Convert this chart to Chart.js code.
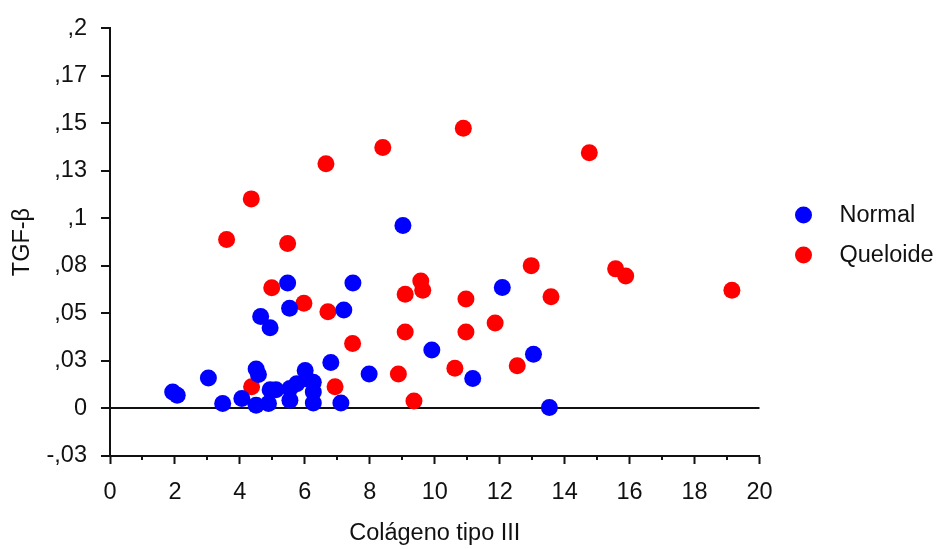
<!DOCTYPE html>
<html>
<head>
<meta charset="utf-8">
<title>TGF-β vs Colágeno tipo III</title>
<script src="https://cdn.jsdelivr.net/npm/chart.js@4/dist/chart.umd.min.js"></script>
<style>
  html, body { margin: 0; padding: 0; background: #ffffff; }
  #wrap { width: 936px; height: 549px; }
</style>
</head>
<body>
<div id="wrap"><canvas id="chart" width="936" height="549"></canvas></div>
<script>
// Series: Normal tissue
const normalX = [1.93, 2.07, 3.03, 3.47, 4.06, 4.50, 4.57, 4.50, 4.88, 4.93, 5.11, 5.54, 5.54, 5.75, 6.01, 6.06, 6.26, 6.26, 6.26, 6.80, 7.11,
                 4.64, 4.93, 5.47, 5.53, 7.20, 7.48, 7.98, 9.02, 9.91, 11.17, 12.08, 13.04, 13.53];
const normalY = [0.0086, 0.0069, 0.0160, 0.0026, 0.0052, 0.0207, 0.0178, 0.0017, 0.0026, 0.0098, 0.0098, 0.0043, 0.0105, 0.0130, 0.0199, 0.0155, 0.0138, 0.0086, 0.0029, 0.0242, 0.0029,
                 0.0483, 0.0424, 0.0660, 0.0527, 0.0518, 0.0660, 0.0181, 0.0962, 0.0307, 0.0158, 0.0636, 0.0285, 0.0005];

// Series: keloid tissue
const queloideX = [3.59, 4.35, 4.36, 4.98, 5.47, 5.97, 6.65, 6.71, 6.93, 7.47, 8.40, 8.88, 9.09, 9.09, 9.36, 9.57, 9.63, 10.62, 10.88, 10.96,
                   10.96, 11.86, 12.54, 12.97, 13.58, 14.76, 15.57, 15.88, 19.15];
const queloideY = [0.0889, 0.1102, 0.0114, 0.0635, 0.0867, 0.0553, 0.1287, 0.0509, 0.0114, 0.0342, 0.1372, 0.0181, 0.0601, 0.0402, 0.0039, 0.0670, 0.0622, 0.0212, 0.1473, 0.0575,
                   0.0402, 0.0449, 0.0224, 0.0751, 0.0587, 0.1345, 0.0734, 0.0696, 0.0622];

const seriesNames = ['Normal', 'Queloide'];
const seriesColors = ['#0000ff', '#ff0000'];

// Axes
const xTitle = 'Colágeno tipo III';
const yTitle = 'TGF-β';
const xTickValues = [0, 2, 4, 6, 8, 10, 12, 14, 16, 18, 20];
const xMinorValues = [1, 3, 5, 7, 9, 11, 13, 15, 17, 19];
const yTickValues = [-0.025, 0, 0.025, 0.05, 0.075, 0.1, 0.125, 0.15, 0.175, 0.2];
const yTickLabels = ['-,03', '0', ',03', ',05', ',08', ',1', ',13', ',15', ',17', ',2'];

const FONT = '"Liberation Sans", Arial, sans-serif';
const FONT_SIZE = 23.5;
const INK = '#111111';

function toPoints(xs, ys) {
  return xs.map((x, i) => ({ x: x, y: ys[i] }));
}

// Short unlabelled ticks at the odd x values
const minorTicks = {
  id: 'minorTicks',
  afterDraw(chart) {
    const sx = chart.scales.x;
    const ctx = chart.ctx;
    ctx.save();
    ctx.strokeStyle = INK;
    ctx.lineWidth = 2;
    ctx.beginPath();
    xMinorValues.forEach(v => {
      const px = Math.round(sx.getPixelForValue(v));
      ctx.moveTo(px, sx.top);
      ctx.lineTo(px, sx.top + 4);
    });
    ctx.stroke();
    ctx.restore();
  }
};

// Legend to the right of the plot
const sideLegend = {
  id: 'sideLegend',
  afterDraw(chart) {
    const ctx = chart.ctx;
    const area = chart.chartArea;
    const x0 = area.right + 44;
    const yStart = 215;
    const gap = 40;
    ctx.save();
    ctx.font = FONT_SIZE + 'px ' + FONT;
    ctx.textBaseline = 'middle';
    ctx.textAlign = 'left';
    chart.data.datasets.forEach((ds, i) => {
      const y = yStart + i * gap;
      ctx.fillStyle = ds.backgroundColor;
      ctx.beginPath();
      ctx.arc(x0, y, 8.5, 0, Math.PI * 2);
      ctx.fill();
      ctx.fillStyle = INK;
      ctx.fillText(ds.label, x0 + 36, y + 1);
    });
    ctx.restore();
  }
};

new Chart(document.getElementById('chart'), {
  type: 'scatter',
  data: {
    datasets: [
      {
        label: seriesNames[0],
        data: toPoints(normalX, normalY),
        backgroundColor: seriesColors[0],
        borderWidth: 0,
        pointRadius: 8.5,
        pointHoverRadius: 8.5
      },
      {
        label: seriesNames[1],
        data: toPoints(queloideX, queloideY),
        backgroundColor: seriesColors[1],
        borderWidth: 0,
        pointRadius: 8.5,
        pointHoverRadius: 8.5
      }
    ]
  },
  options: {
    responsive: false,
    animation: false,
    devicePixelRatio: 1,
    layout: { padding: { left: 0, right: 176.5, top: 22, bottom: 0 } },
    plugins: {
      legend: { display: false },
      tooltip: { enabled: false }
    },
    scales: {
      x: {
        type: 'linear',
        min: 0,
        max: 20,
        afterBuildTicks: s => { s.ticks = xTickValues.map(v => ({ value: v })); },
        afterFit: s => { s.height = 93; },
        grid: { display: true, drawOnChartArea: false, drawTicks: true, tickLength: 8, tickColor: INK, tickWidth: 2 },
        border: { display: true, color: INK, width: 2 },
        ticks: { font: { family: FONT, size: FONT_SIZE }, color: INK, padding: 14, maxRotation: 0, autoSkip: false },
        title: { display: true, text: xTitle, color: INK, font: { family: FONT, size: FONT_SIZE }, padding: { top: 0, bottom: 1 } }
      },
      y: {
        type: 'linear',
        min: -0.025,
        max: 0.2,
        afterBuildTicks: s => { s.ticks = yTickValues.map(v => ({ value: v })); },
        afterFit: s => { s.width = 110; },
        grid: {
          display: true,
          color: c => (c.tick && c.tick.value === 0 ? INK : 'rgba(0,0,0,0)'),
          lineWidth: 2,
          drawTicks: true,
          tickLength: 9,
          tickColor: INK,
          tickWidth: 2
        },
        border: { display: true, color: INK, width: 2 },
        ticks: {
          font: { family: FONT, size: FONT_SIZE },
          color: INK,
          padding: 14,
          autoSkip: false,
          callback: (value, index) => yTickLabels[index]
        },
        title: { display: true, text: yTitle, color: INK, font: { family: FONT, size: FONT_SIZE }, padding: { top: 8, bottom: 0 } }
      }
    }
  },
  plugins: [minorTicks, sideLegend]
});
</script>
</body>
</html>
